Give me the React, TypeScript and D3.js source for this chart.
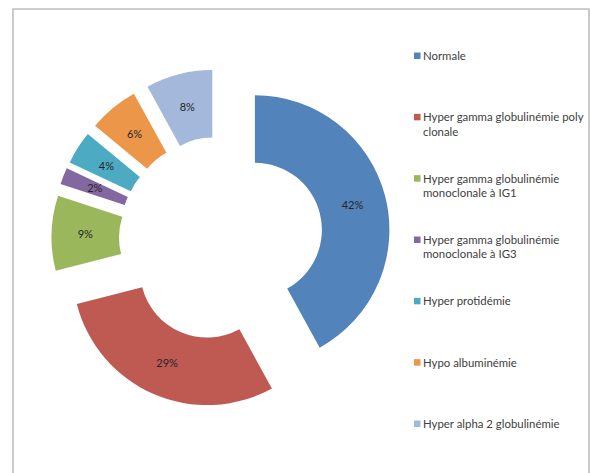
import React from "react";
import * as d3 from "d3";

// Share of each biological profile (percent)
const categories: string[] = [
  "Normale",
  "Hyper gamma globulinémie poly\nclonale",
  "Hyper gamma globulinémie\nmonoclonale à IG1",
  "Hyper gamma globulinémie\nmonoclonale à IG3",
  "Hyper protidémie",
  "Hypo albuminémie",
  "Hyper alpha 2 globulinémie",
];
const values: number[] = [42, 29, 9, 2, 4, 6, 8];
const colors: string[] = [
  "#5283BA",
  "#BE5A52",
  "#9AB75C",
  "#8267A1",
  "#4DAAC3",
  "#EB9648",
  "#A3B8DA",
];

const W = 590;
const H = 473;
const cx = 221;
const cy = 238.5;
const innerR = 67;
const outerR = 134.5;
const explode = 35;

export default function App() {
  const total = d3.sum(values);
  const pie = d3
    .pie<number>()
    .sort(null)
    .value((d) => d)
    .startAngle(0)
    .endAngle(2 * Math.PI);
  const arcs = pie(values);
  const arc = d3.arc<d3.PieArcDatum<number>>().innerRadius(innerR).outerRadius(outerR);

  const legendX = 414;
  const legendY0 = 56;
  const legendStep = (424 - 56) / 6;
  const lineH = 14.5;

  return (
    <svg
      width={W}
      height={H}
      style={{ position: "absolute", left: 0, top: 0, background: "#fff" }}
      fontFamily="Lato, 'Open Sans', sans-serif"
    >
      <rect x={0} y={0} width={W} height={H} fill="#fff" />
      {/* chart frame */}
      <path
        d={`M13,${H + 2} L13,9 L589,9 L589,${H + 2}`}
        fill="none"
        stroke="#BEBEBE"
        strokeWidth={1.6}
      />
      <g transform={`translate(${cx},${cy})`}>
        {arcs.map((a, i) => {
          const mid = (a.startAngle + a.endAngle) / 2;
          const dx = Math.sin(mid) * explode;
          const dy = -Math.cos(mid) * explode;
          const [lx, ly] = arc.centroid(a);
          return (
            <g key={i} transform={`translate(${dx},${dy})`}>
              <path d={arc(a) as string} fill={colors[i]} />
              <text
                x={lx}
                y={ly}
                dy="0.35em"
                textAnchor="middle"
                fontSize={11}
                fill="#262626"
              >
                {`${Math.round((values[i] / total) * 100)}%`}
              </text>
            </g>
          );
        })}
      </g>
      <g>
        {categories.map((c, i) => {
          const y = legendY0 + i * legendStep;
          const lines = c.split("\n");
          return (
            <g key={i}>
              <rect x={legendX} y={y - 3.5} width={6.5} height={6.5} fill={colors[i]} />
              {lines.map((t, j) => (
                <text
                  key={j}
                  x={legendX + 9}
                  y={y + 3.9 + j * lineH}
                  fontSize={11.4}
                  fill="#404040"
                >
                  {t}
                </text>
              ))}
            </g>
          );
        })}
      </g>
    </svg>
  );
}
